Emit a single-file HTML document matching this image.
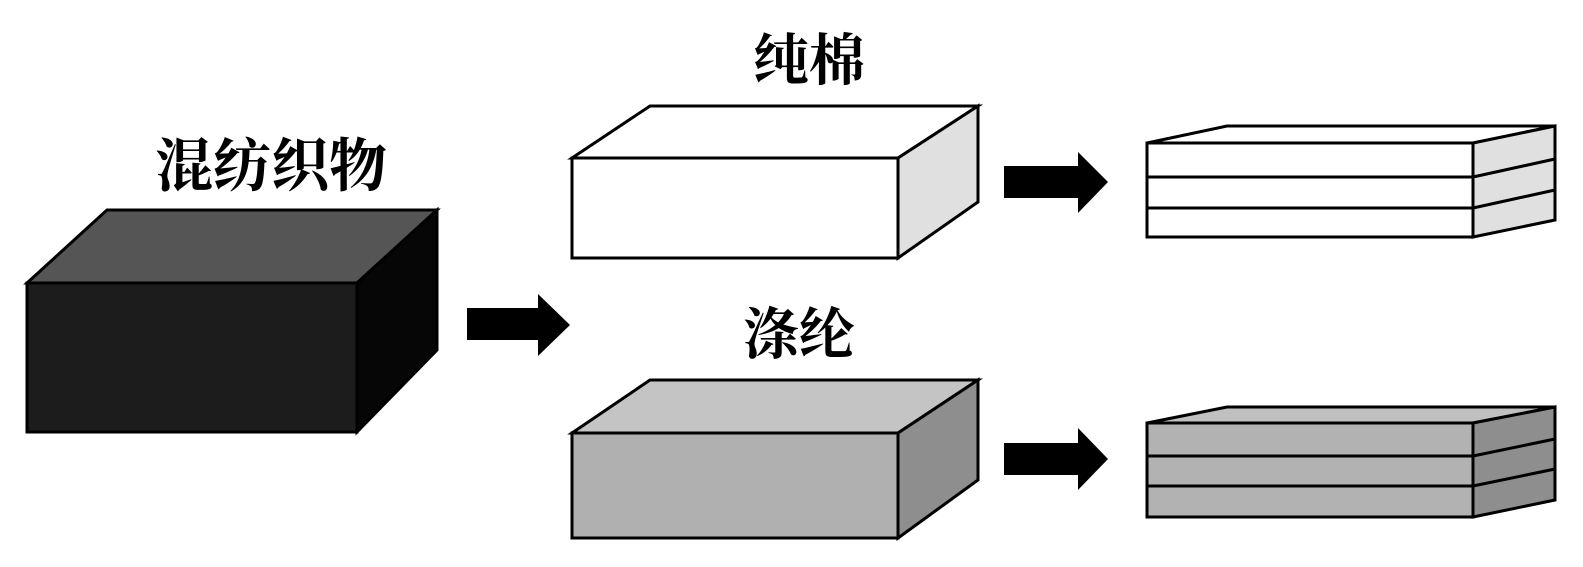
<!DOCTYPE html>
<html><head><meta charset="utf-8"><style>
html,body{margin:0;padding:0;background:#fff;}
svg{display:block;}
text{font-family:"Noto Serif CJK SC","Noto Sans CJK SC",sans-serif;font-weight:bold;fill:#000;}
</style></head><body>
<svg width="1583" height="567" viewBox="0 0 1583 567" xmlns="http://www.w3.org/2000/svg">
<g stroke="#000" stroke-width="3" stroke-linejoin="miter">
<!-- left box -->
<polygon points="27,283 107,210 437,210 357,283" fill="#555"/>
<polygon points="357,283 437,210 437,350 357,432" fill="#060606"/>
<rect x="27" y="283" width="330" height="149" fill="#1c1c1c"/>
<!-- top white box -->
<polygon points="572,158 650,106 978,106 898,158" fill="#fff"/>
<polygon points="898,158 978,106 978,202 898,258" fill="#e0e0e0"/>
<rect x="572" y="158" width="326" height="100" fill="#fff"/>
<!-- bottom grey box -->
<polygon points="572,433 650,380 978,380 898,433" fill="#c4c4c4"/>
<polygon points="898,433 978,380 978,480 898,538" fill="#8e8e8e"/>
<rect x="572" y="433" width="326" height="105" fill="#b0b0b0"/>
<!-- top stack -->
<polygon points="1147,143 1227,126 1555,126 1473,143" fill="#fff"/>
<polygon points="1473,143 1555,126 1555,220 1473,237" fill="#e0e0e0"/>
<rect x="1147" y="143" width="326" height="94" fill="#fff"/>
<line x1="1147" y1="177" x2="1473" y2="177"/>
<line x1="1147" y1="208" x2="1473" y2="208"/>
<line x1="1473" y1="177" x2="1555" y2="159"/>
<line x1="1473" y1="208" x2="1555" y2="190"/>
<!-- bottom stack -->
<polygon points="1147,423 1227,407 1555,407 1473,423" fill="#c0c0c0"/>
<polygon points="1473,423 1555,407 1555,500 1473,517" fill="#8e8e8e"/>
<rect x="1147" y="423" width="326" height="94" fill="#b2b2b2"/>
<line x1="1147" y1="456" x2="1473" y2="456"/>
<line x1="1147" y1="486" x2="1473" y2="486"/>
<line x1="1473" y1="456" x2="1555" y2="439"/>
<line x1="1473" y1="486" x2="1555" y2="469"/>
</g>
<!-- arrows -->
<g fill="#000">
<polygon points="467,308 538,308 538,294 570,325 538,356 538,340 467,340"/>
<polygon points="1004,166 1078,166 1078,152 1108,182 1078,213 1078,198 1004,198"/>
<polygon points="1004,443 1078,443 1078,428 1108,459 1078,490 1078,475 1004,475"/>
</g>
<text x="271" y="186" font-size="58" text-anchor="middle">混纺织物</text>
<text x="809" y="80" font-size="56" text-anchor="middle">纯棉</text>
<text x="799" y="354" font-size="56" text-anchor="middle">涤纶</text>
</svg>
</body></html>
